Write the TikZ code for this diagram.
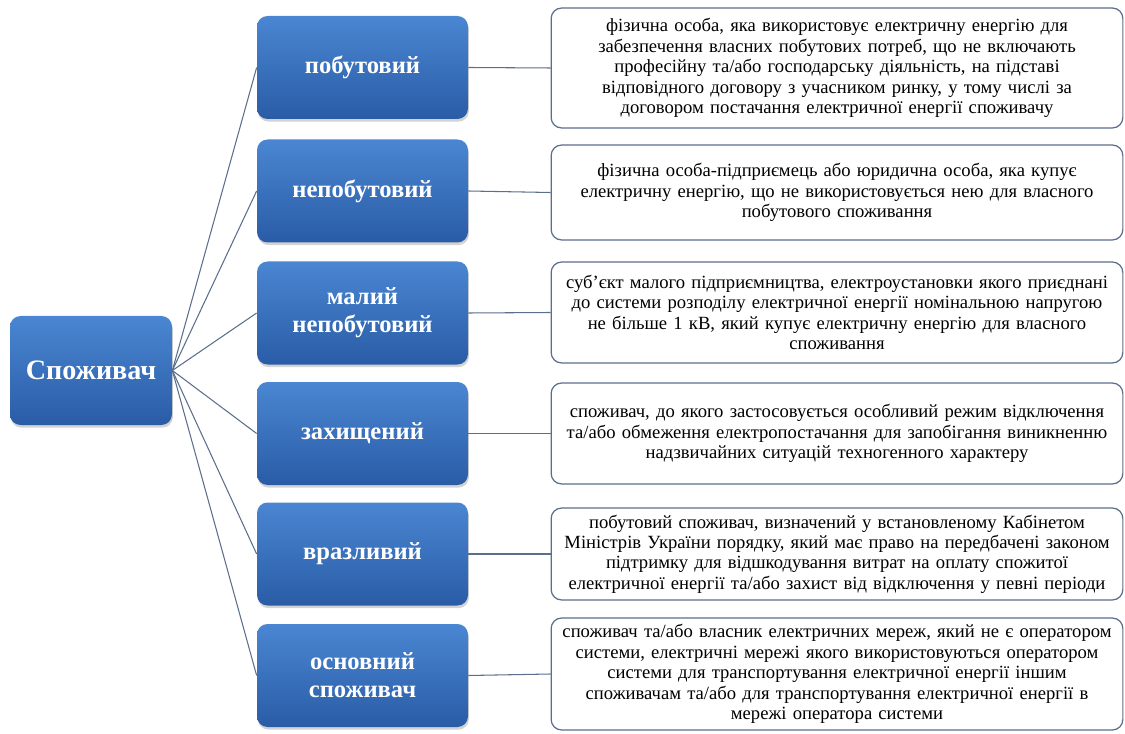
\documentclass[tikz,border=0pt]{standalone}
\usepackage{fontspec}
\setmainfont{Liberation Serif}
\usetikzlibrary{shadows}

\definecolor{boxtop}{HTML}{4A86D2}
\definecolor{boxbot}{HTML}{2A5CA6}
\definecolor{edgeline}{HTML}{5B6E8C}

\tikzset{
	bluebox/.style={rounded corners=6pt,top color=boxtop,bottom color=boxbot,draw=none,
		text=white,font=\bfseries\fontsize{14}{16}\selectfont,align=center,
		drop shadow={opacity=0.35,shadow xshift=0.5pt,shadow yshift=-1.5pt}},
	rootbox/.style={bluebox,minimum width=3.24cm,minimum height=2.18cm,font=\bfseries\fontsize{16}{18}\selectfont},
	kindbox/.style={bluebox,minimum width=4.22cm,minimum height=2.06cm},
	infobox/.style={rounded corners=6pt,draw=edgeline,line width=0.7pt,fill=white,
		minimum width=11.36cm,text width=11.2cm,align=center,
		font=\fontsize{10.6}{11.6}\selectfont},
	link/.style={draw=edgeline,line width=0.6pt}
}

\begin{document}
\begin{tikzpicture}
	\useasboundingbox (0,0) rectangle (22.5,14.66);
	
	%root
	\node[rootbox] (root) at (1.82,7.25) {Споживач};
	
	%kinds
	\node[kindbox] (k1) at (7.25,13.31) {побутовий};
	\node[kindbox] (k2) at (7.25,10.84) {непобутовий};
	\node[kindbox] (k3) at (7.25,8.40)  {малий\\непобутовий};
	\node[kindbox] (k4) at (7.25,5.99)  {захищений};
	\node[kindbox] (k5) at (7.25,3.58)  {вразливий};
	\node[kindbox] (k6) at (7.25,1.15)  {основний\\споживач};
	
	%definitions
	\node[infobox,minimum height=2.40cm] (d1) at (16.74,13.30) {фізична особа, яка використовує електричну енергію для\\
		забезпечення власних побутових потреб, що не включають\\
		професійну та/або господарську діяльність, на підставі\\
		відповідного договору з учасником ринку, у тому числі за\\
		договором постачання електричної енергії споживачу};
	\node[infobox,minimum height=1.90cm] (d2) at (16.74,10.81) {фізична особа-підприємець або юридична особа, яка купує\\
		електричну енергію, що не використовується нею для власного\\
		побутового споживання};
	\node[infobox,minimum height=2.02cm] (d3) at (16.74,8.41) {суб’єкт малого підприємництва, електроустановки якого приєднані\\
		до системи розподілу електричної енергії номінальною напругою\\
		не більше 1 кВ, який купує електричну енергію для власного\\
		споживання};
	\node[infobox,minimum height=2.02cm] (d4) at (16.74,5.99) {споживач, до якого застосовується особливий режим відключення\\
		та/або обмеження електропостачання для запобігання виникненню\\
		надзвичайних ситуацій техногенного характеру};
	\node[infobox,minimum height=1.84cm] (d5) at (16.74,3.58) {побутовий споживач, визначений у встановленому Кабінетом\\
		Міністрів України порядку, який має право на передбачені законом\\
		підтримку для відшкодування витрат на оплату спожитої\\
		електричної енергії та/або захист від відключення у певні періоди};
	\node[infobox,minimum height=2.24cm] (d6) at (16.74,1.18) {споживач та/або власник електричних мереж, який не є оператором\\
		системи, електричні мережі якого використовуються оператором\\
		системи для транспортування електричної енергії іншим\\
		споживачам та/або для транспортування електричної енергії в\\
		мережі оператора системи};
	
	%links
	\foreach \i in {1,...,6}{
		\draw[link] (root.east) -- (k\i.west);
		\draw[link] (k\i.east) -- (d\i.west);
	}
\end{tikzpicture}
\end{document}
